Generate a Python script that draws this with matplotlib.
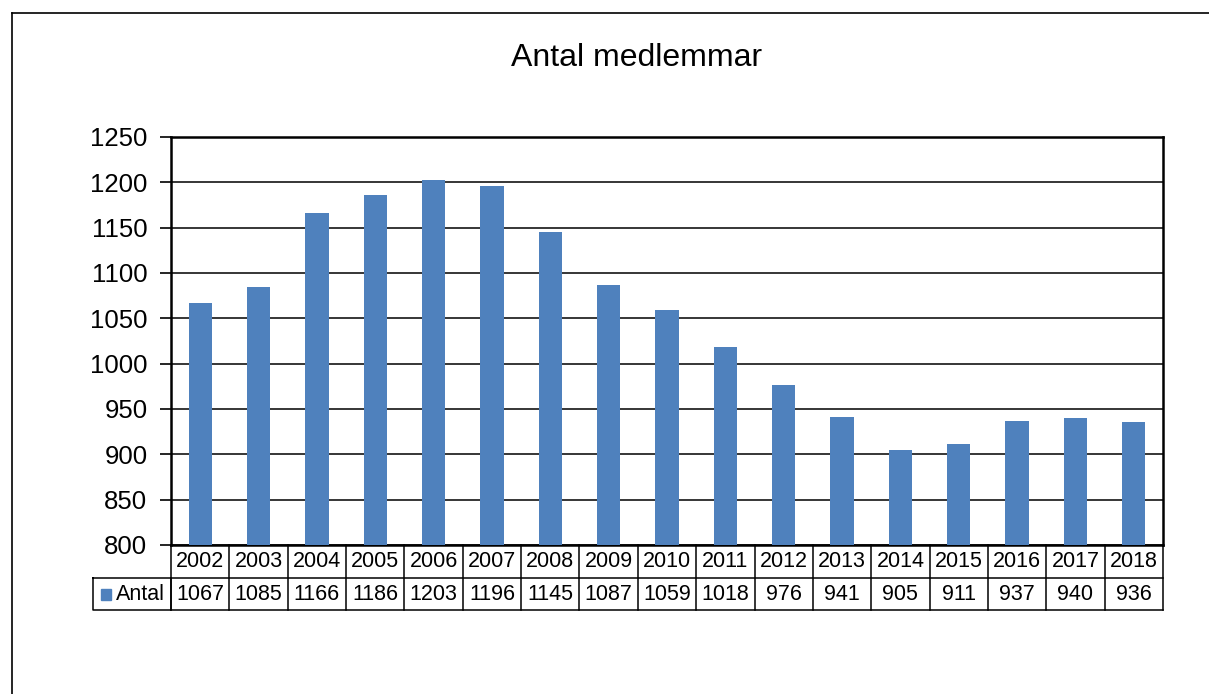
import matplotlib.pyplot as plt
import matplotlib.transforms as mtransforms
from matplotlib.lines import Line2D
from matplotlib.patches import Rectangle

years = ['2002', '2003', '2004', '2005', '2006', '2007', '2008', '2009', '2010',
         '2011', '2012', '2013', '2014', '2015', '2016', '2017', '2018']
antal = [1067, 1085, 1166, 1186, 1203, 1196, 1145, 1087, 1059,
         1018, 976, 941, 905, 911, 937, 940, 936]
yticks = [800, 850, 900, 950, 1000, 1050, 1100, 1150, 1200, 1250]

plt.rcParams['font.family'] = ['Liberation Sans', 'DejaVu Sans']
bar_color = '#4F81BD'

fig = plt.figure(figsize=(12.09, 6.94), dpi=100)
ax = fig.add_axes([171 / 1209, 1 - 545 / 694, (1163 - 171) / 1209, (545 - 137) / 694])

x = list(range(len(years)))
ax.bar(x, antal, width=0.4, color=bar_color, zorder=3)
ax.set_xlim(-0.5, len(years) - 0.5)
ax.set_ylim(800, 1250)
ax.set_yticks(yticks)
ax.set_yticklabels([str(t) for t in yticks], fontsize=18.5)
ax.set_xticks([])
ax.tick_params(axis='y', length=8, width=1.2, pad=9, color='black')
ax.yaxis.grid(True, color='black', linewidth=1.1, zorder=0)
for s in ax.spines.values():
    s.set_linewidth(1.8)
    s.set_color('black')

# data table beneath the plot
trans = mtransforms.blended_transform_factory(ax.transData, ax.transAxes)
r1 = -33 / 408
r2 = -65 / 408
lw = 1.1
fs = 15.5
n = len(years)
for i in range(n + 1):
    ax.add_line(Line2D([i - 0.5, i - 0.5], [0, r2], transform=trans,
                       color='black', lw=lw, clip_on=False))
ax.add_line(Line2D([-0.5, n - 0.5], [r1, r1], transform=trans,
                   color='black', lw=lw, clip_on=False))
ax.add_line(Line2D([-0.5, n - 0.5], [r2, r2], transform=trans,
                   color='black', lw=lw, clip_on=False))
for i, (yr, v) in enumerate(zip(years, antal)):
    ax.text(i, r1 / 2, yr, transform=trans, ha='center', va='center',
            fontsize=fs, clip_on=False)
    ax.text(i, (r1 + r2) / 2, str(v), transform=trans, ha='center', va='center',
            fontsize=fs, clip_on=False)

# legend cell
left = (93 - 171) / 992
ax.add_line(Line2D([left, 0, 0, left, left], [r1, r1, r2, r2, r1],
                   transform=ax.transAxes, color='black', lw=lw, clip_on=False))
ax.add_patch(Rectangle(((101 - 171) / 992, (r1 + r2) / 2 - 5.5 / 408), 10 / 992, 11 / 408,
                       transform=ax.transAxes, color=bar_color, clip_on=False))
ax.text((116 - 171) / 992, (r1 + r2) / 2, 'Antal', transform=ax.transAxes,
        ha='left', va='center', fontsize=fs, clip_on=False)

fig.text(637 / 1209, 1 - 58 / 694, 'Antal medlemmar', ha='center', va='center',
         fontsize=23)

# outer chart frame (partly cropped in the original)
fig.add_artist(Line2D([12 / 1209, 1], [1 - 13 / 694, 1 - 13 / 694],
                      transform=fig.transFigure, color='black', lw=1.2))
fig.add_artist(Line2D([12 / 1209, 12 / 1209], [0, 1 - 13 / 694],
                      transform=fig.transFigure, color='black', lw=1.2))

fig.savefig('out.png', dpi=100)
